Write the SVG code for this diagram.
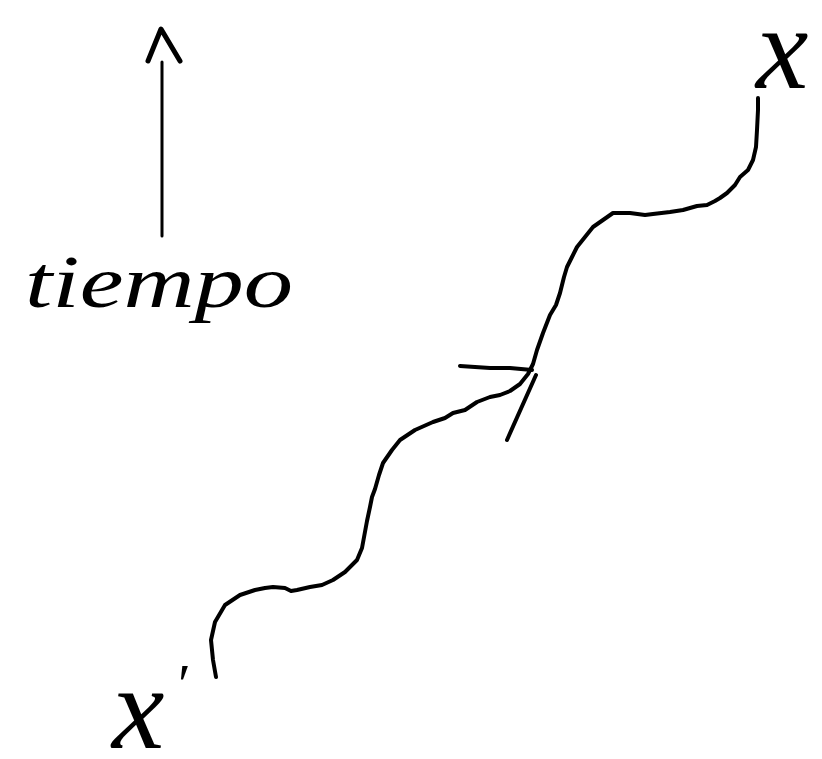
<svg xmlns="http://www.w3.org/2000/svg" width="822" height="759" viewBox="0 0 822 759">
<style>
.ink{fill:none;stroke:#000;stroke-linecap:round;stroke-linejoin:round}
.lbl{fill:#000;font-family:"Liberation Serif","Times New Roman",serif;font-style:italic}
</style>
<rect width="822" height="759" fill="#fff"/>
<g id="time-axis">
<line class="ink" x1="162" y1="62" x2="162" y2="236" stroke-width="3"/>
<polyline class="ink" points="148,61 161,29 180,61" stroke-width="5"/>
<text class="lbl" x="25" y="307" font-size="74" textLength="268" lengthAdjust="spacingAndGlyphs">tiempo</text>
</g>
<g id="worldline">
<polyline class="ink" stroke-width="4" points="216,677 213,660 211,640 215,622 225,605 240,595 255,590 265,588 273,587 285,588 291,591 297,590 310,587 322,585 333,580 345,572 357,560 362,548 367,521 370,507 372,497 375,489 379,475 383,463 392,450 400,440 415,430 433,422 445,418 453,413 465,410 477,402 490,397 500,395 510,391 520,384 528,374 533,364 537,350 543,333 550,315 556,305 560,293 564,277 567,267 572,257 577,247 585,237 593,227 603,220 613,213 630,213 645,215 653,214 670,212 683,210 690,208 697,206 707,205 715,201 720,198 727,193 735,185 740,177 748,170 753,160 756,147 757,130 758,110 758,98"/>
</g>
<g id="event-mark">
<polyline class="ink" stroke-width="4" points="460,366 490,368 510,368 532,370"/>
<line class="ink" x1="536" y1="375" x2="507" y2="440" stroke-width="4"/>
</g>
<g id="label-x">
<text class="lbl" x="756" y="88" font-size="118">x</text>
</g>
<g id="label-xprime">
<text class="lbl" x="112" y="748" font-size="118">x<tspan font-size="58" dx="10" dy="-44">′</tspan></text>
</g>
</svg>
